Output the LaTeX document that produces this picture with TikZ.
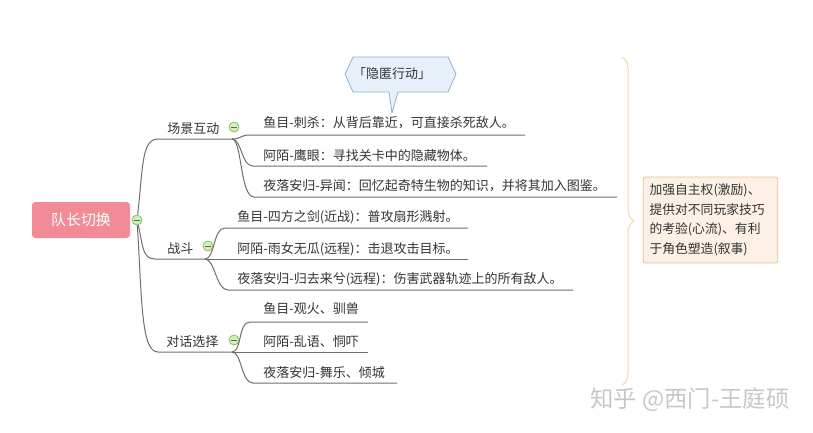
\documentclass[tikz,border=0pt]{standalone}
\usepackage{fontspec}
\setmainfont{Noto Sans CJK SC}
\usepackage{xcolor}
\usepackage{tikz}
\usetikzlibrary{
  positioning,
  decorations.pathreplacing
}

\definecolor{rootpink}{HTML}{F28B95}
\definecolor{linegray}{HTML}{6E6E6E}
\definecolor{textgray}{HTML}{333333}
\definecolor{foldgreen}{HTML}{86BE62}
\definecolor{foldfill}{HTML}{D3EDBB}
\definecolor{tagfill}{HTML}{E8F1F9}
\definecolor{tagline}{HTML}{8DB3D3}
\definecolor{bracetan}{HTML}{EED9A8}
\definecolor{notefill}{HTML}{FDF0E6}
\definecolor{noteline}{HTML}{E8C48E}

\begin{document}
\begin{tikzpicture}[
        x=0.75pt,y=-0.75pt,
        font=\fontsize{9.75}{12}\selectfont,
        rootbox/.style={
            rectangle, rounded corners=2.5pt, fill=rootpink, text=white,
            minimum width=73.5pt, minimum height=27pt,
            font=\fontsize{11.2}{13}\selectfont
          },
        topic/.style={
            anchor=west, inner sep=0, text=textgray,
            text height=0.88em, text depth=0.12em
          },
        leaf/.style={topic},
        fold/.style={
            circle, draw=foldgreen, fill=foldfill, inner sep=0,
            minimum size=7.5pt, line width=0.6pt,
            path picture={
                \draw[foldgreen!60!black, line width=0.6pt]
                ([xshift=1.6pt]path picture bounding box.west) --
                ([xshift=-1.6pt]path picture bounding box.east);
              }
          },
        branch/.style={draw=linegray, line width=0.75pt}
      ]
      \useasboundingbox (0,0) rectangle (813,432);

      % 中心主题
      \node[rootbox] (root) at (81,220) {队长切换};
      \node[fold] (rootfold) at (137,220) {};

      % 分支的下划线端点
      \coordinate (scene-s) at (158,139);
      \coordinate (scene-e) at (232,139);
      \coordinate (fight-s) at (155,259);
      \coordinate (fight-e) at (205,259);
      \coordinate (talk-s) at (158,352);
      \coordinate (talk-e) at (232,352);

      % 一级分支
      \node[topic] (scene) at (167,128) {场景互动};
      \node[topic] (fight) at (167,248) {战斗};
      \node[topic] (talk) at (166,341) {对话选择};
      \node[fold] (scenefold) at (234,127) {};
      \node[fold] (fightfold) at (208,246) {};
      \node[fold] (talkfold) at (234,340) {};

      \draw[branch] (rootfold) .. controls (143,170) and (141,139) .. (scene-s) -- (scene-e);
      \draw[branch] (rootfold) .. controls (143,245) and (142,259) .. (fight-s) -- (fight-e);
      \draw[branch] (rootfold) .. controls (142,300) and (141,352) .. (talk-s) -- (talk-e);

      % 场景互动
      \node[leaf] (scene1) at (263,122) {鱼目-刺杀：从背后靠近，可直接杀死敌人。};
      \node[leaf] (scene2) at (263,155) {阿陌-鹰眼：寻找关卡中的隐藏物体。};
      \node[leaf] (scene3) at (263,185) {夜落安归-异闻：回忆起奇特生物的知识，并将其加入图鉴。};
      \coordinate (scene1-s) at (249,135);
      \coordinate (scene2-s) at (253,166);
      \coordinate (scene3-s) at (254,197);
      \draw[branch] (scene-e) .. controls +(9,0) and +(-8,0) .. (scene1-s) -- (525,135);
      \draw[branch] (scene-e) .. controls +(10,0) and +(-12,0) .. (scene2-s) -- (487,166);
      \draw[branch] (scene-e) .. controls +(10,0) and +(-14,0) .. (scene3-s) -- (617,197);

      % 战斗
      \node[leaf] (fight1) at (237,216) {鱼目-四方之剑(近战)：普攻扇形溅射。};
      \node[leaf] (fight2) at (237,248) {阿陌-雨女无瓜(远程)：击退攻击目标。};
      \node[leaf] (fight3) at (237,278) {夜落安归-归去来兮(远程)：伤害武器轨迹上的所有敌人。};
      \coordinate (fight1-s) at (225,228);
      \coordinate (fight3-s) at (228,290);
      \draw[branch] (fight-e) .. controls +(10,0) and +(-12,0) .. (fight1-s) -- (468,228);
      \draw[branch] (fight-e) -- (468,259);
      \draw[branch] (fight-e) .. controls +(10,0) and +(-12,0) .. (fight3-s) -- (573,290);

      % 对话选择
      \node[leaf] (talk1) at (263,308) {鱼目-观火、驯兽};
      \node[leaf] (talk2) at (263,341) {阿陌-乱语、恫吓};
      \node[leaf] (talk3) at (263,372) {夜落安归-舞乐、倾城};
      \coordinate (talk1-s) at (250,322);
      \coordinate (talk3-s) at (253,383);
      \draw[branch] (talk-e) .. controls +(10,0) and +(-12,0) .. (talk1-s) -- (368,322);
      \draw[branch] (talk-e) -- (368,352);
      \draw[branch] (talk-e) .. controls +(10,0) and +(-12,0) .. (talk3-s) -- (397,383);

      % 标签
      \draw[fill=tagfill, draw=tagline, line width=0.6pt, line join=round]
      (345,74) -- (353,57) -- (448,57) -- (456,74) -- (448,92) -- (398,92)
      -- (392,113) -- (389,92) -- (353,92) -- cycle;
      \node[text=textgray, inner sep=0] (tag) at (392,74) {「隐匿行动」};

      % 概要
      \draw[bracetan, line width=0.75pt,
        decorate, decoration={brace, amplitude=9pt}] (622,57) -- (622,385);
      \node[
        draw=noteline, fill=notefill, rounded corners=1.5pt, line width=0.6pt,
        text width=91.5pt, inner xsep=4.75pt, inner ysep=0pt,
        minimum height=64.5pt, align=left, text=textgray,
        font=\fontsize{9.6}{14.6}\selectfont
      ] (note) at (710.5,220) {加强自主权(激励)、\\提供对不同玩家技巧\\的考验(心流)、有利\\于角色塑造(叙事)};

      % 水印
      \node[text=black!22, font=\fontsize{17.5}{19}\selectfont] (mark) at (690,400) {知乎 @西门-王庭硕};
    \end{tikzpicture}
\end{document}
